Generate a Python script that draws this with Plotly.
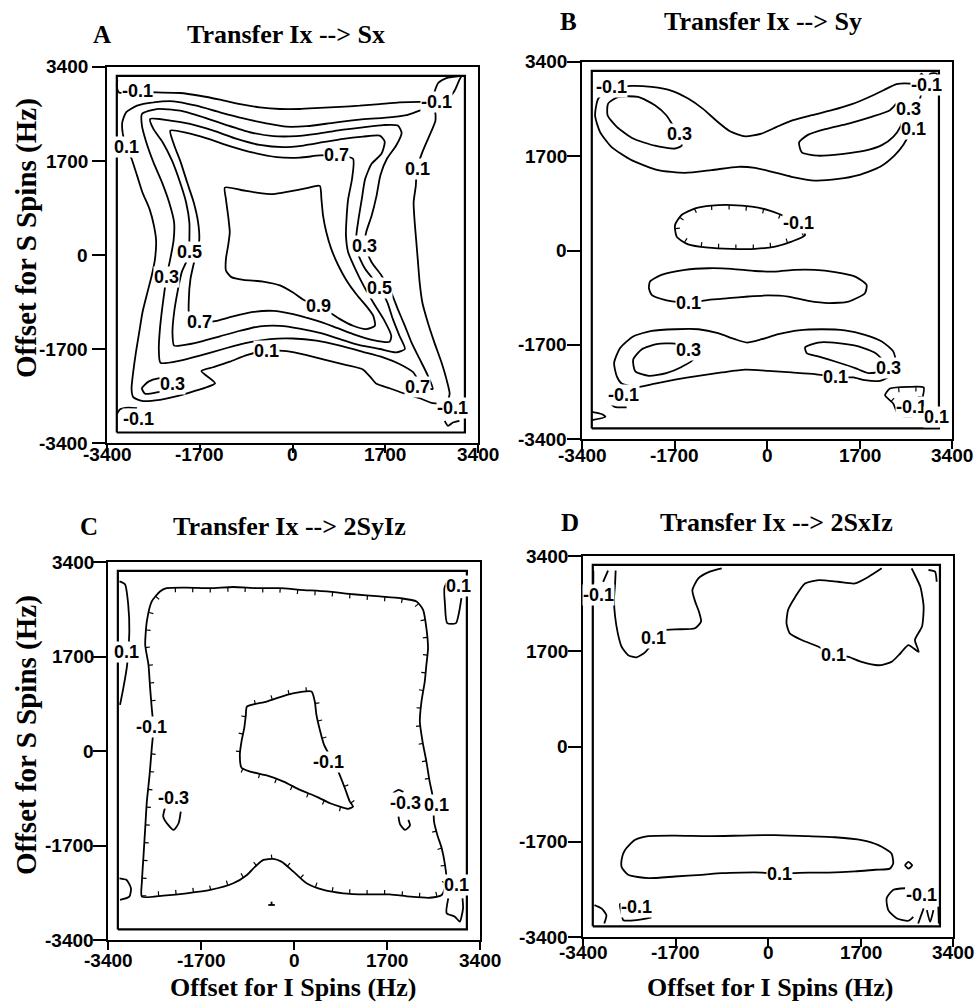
import math
import plotly.graph_objects as go

# ---------------------------------------------------------------- axes / text
AX_RANGE = [-3400, 3400]
TICK_VALS = [-3400, -1700, 0, 1700, 3400]
TICK_TEXT = ["-3400", "-1700", "0", "1700", "3400"]
PANEL_LETTERS = ["A", "B", "C", "D"]
PANEL_TITLES = ["Transfer Ix --> Sx", "Transfer Ix --> Sy",
                "Transfer Ix --> 2SyIz", "Transfer Ix --> 2SxIz"]
X_TITLE = "Offset for I Spins (Hz)"
Y_TITLE = "Offset for S Spins (Hz)"

# extent of the simulated offset grid (inner frame), Hz
GRID_X = [-3220, 3160]
GRID_Y = [-3210, 3240]

# ---------------------------------------------------------------- panel A  (Ix -> Sx)
A_M01_TOP = [(-3210, 3170), (-3220, 3050), (-3180, 2940), (-2850, 2950), (-2490, 2940), (-2060, 2930),
             (-1700, 2880), (-1330, 2810), (-960, 2730), (-600, 2670), (-230, 2640), (130, 2640),
             (500, 2660), (870, 2680), (1230, 2700), (1600, 2730), (1960, 2760), (2330, 2770),
             (2640, 2760), (2850, 2830), (2970, 2970), (3060, 3170), (3100, 3240)]
A_M01_TR = [(2600, 2940), (2670, 3110), (2820, 3200), (3090, 3240)]
A_01 = [(-2850, 2700), (-2550, 2760), (-2180, 2780), (-1760, 2700), (-1330, 2580), (-900, 2470),
        (-480, 2380), (-110, 2320), (260, 2330), (740, 2390), (1230, 2450), (1660, 2480), (2090, 2530),
        (2420, 2640), (2600, 2640), (2620, 2430), (2510, 2160), (2380, 1860), (2280, 1560), (2260, 1250),
        (2220, 950), (2240, 590), (2270, 230), (2300, -130), (2330, -490), (2380, -860), (2480, -1220),
        (2600, -1580), (2730, -1940), (2820, -2240), (2880, -2510), (2820, -2670), (2570, -2680),
        (2330, -2590), (2030, -2500), (1780, -2410), (1540, -2330), (1430, -2210), (1290, -2070),
        (990, -1990), (620, -1900), (260, -1810), (-110, -1740), (-480, -1730), (-840, -1810),
        (-1150, -1930), (-1450, -2030), (-1670, -2100), (-1420, -2320), (-1760, -2450), (-2060, -2540),
        (-2430, -2620), (-2760, -2640), (-2920, -2570), (-2950, -2420), (-2920, -2120), (-2870, -1760),
        (-2810, -1400), (-2750, -1040), (-2660, -680), (-2580, -370), (-2520, -70), (-2500, 260),
        (-2540, 530), (-2620, 830), (-2750, 1130), (-2850, 1440), (-2950, 1740), (-3040, 1950),
        (-3110, 2190), (-3120, 2400), (-3050, 2580)]
A_03 = [(-2760, 2550), (-2490, 2640), (-2060, 2610), (-1630, 2490), (-1210, 2350), (-780, 2220),
        (-350, 2150), (70, 2150), (440, 2190), (870, 2260), (1290, 2310), (1660, 2350), (1930, 2340),
        (2000, 2210), (1900, 1980), (1730, 1740), (1610, 1440), (1540, 1070), (1450, 710), (1350, 410),
        (1320, 170), (1450, -130), (1630, -370), (1810, -680), (1930, -980), (2060, -1280), (2180, -1580),
        (2330, -1880), (2480, -2180), (2570, -2420), (2390, -2390), (2210, -2120), (1960, -1970),
        (1660, -1850), (1290, -1750), (870, -1640), (440, -1550), (10, -1510), (-410, -1520),
        (-840, -1590), (-1270, -1700), (-1700, -1820), (-2060, -1910), (-2420, -1950), (-2450, -1700),
        (-2430, -1340), (-2390, -980), (-2350, -680), (-2310, -400), (-2240, -70), (-2180, 260),
        (-2170, 590), (-2260, 950), (-2390, 1310), (-2550, 1680), (-2680, 2040), (-2760, 2340)]
A_05 = [(-2610, 2460), (-2240, 2430), (-1880, 2370), (-1450, 2250), (-1020, 2100), (-600, 1990),
        (-170, 1950), (200, 1980), (560, 2040), (930, 2100), (1290, 2140), (1600, 2160), (1690, 2050),
        (1630, 1830), (1450, 1650), (1330, 1370), (1270, 1010), (1210, 650), (1170, 350), (1190, 50),
        (1330, -250), (1600, -590), (1740, -860), (1840, -1160), (1960, -1460), (2060, -1700),
        (1900, -1760), (1600, -1700), (1230, -1630), (870, -1520), (500, -1410), (130, -1330),
        (-230, -1280), (-600, -1290), (-960, -1370), (-1330, -1470), (-1700, -1570), (-2000, -1630),
        (-2170, -1640), (-2200, -1400), (-2170, -1040), (-2110, -680), (-2030, -310), (-1900, -10),
        (-1890, 290), (-1890, 590), (-1950, 950), (-2060, 1310), (-2210, 1710), (-2380, 2040),
        (-2550, 2280)]
A_07 = [(-2240, 2250), (-1940, 2210), (-1570, 2110), (-1150, 1970), (-720, 1850), (-290, 1770),
        (130, 1760), (500, 1800), (810, 1800), (1110, 1740), (1090, 1370), (1020, 1010), (990, 650),
        (980, 350), (1020, 50), (1150, -250), (1300, -550), (1480, -860), (1670, -1160), (1810, -1460),
        (1780, -1570), (1480, -1540), (1110, -1430), (740, -1290), (380, -1170), (10, -1070),
        (-350, -1010), (-720, -1030), (-1090, -1110), (-1390, -1190), (-1700, -1220), (-1890, -1100),
        (-1900, -800), (-1870, -430), (-1790, -70), (-1710, 260), (-1730, 590), (-1810, 950),
        (-1930, 1310), (-2050, 1680), (-2170, 1990)]
A_09 = [(-1240, 1220), (-960, 1180), (-660, 1130), (-350, 1100), (-50, 1150), (260, 1210), (500, 1250),
        (530, 1010), (560, 710), (620, 410), (710, 110), (840, -190), (990, -460), (1170, -710),
        (1350, -920), (1480, -1100), (1510, -1280), (1350, -1340), (1110, -1280), (870, -1160),
        (680, -1040), (440, -920), (200, -810), (10, -680), (-230, -550), (-540, -480), (-900, -450),
        (-1120, -400), (-1220, -280), (-1220, -70), (-1180, 170), (-1150, 410), (-1180, 710),
        (-1220, 1010)]
A_03_BL = [(-2210, -2240), (-2460, -2230), (-2640, -2290), (-2760, -2410), (-2700, -2510),
           (-2460, -2480), (-2210, -2420)]
A_M01_BL = [(-3220, -2880), (-3160, -2790), (-3010, -2760), (-2850, -2770)]
A_M01_BR = [(2790, -3000), (2850, -3090), (2940, -3030), (3060, -3000)]
A_LABELS = [("-0.1", -2850, 2960), ("-0.1", 2640, 2760), ("0.1", -3040, 1950), ("0.1", 2300, 1560),
            ("0.1", -480, -1730), ("0.3", -2310, -400), ("0.3", 1320, 170), ("0.3", -2200, -2330),
            ("0.5", -1880, 50), ("0.5", 1600, -590), ("0.7", 810, 1800), ("0.7", -1700, -1220),
            ("0.7", 2300, -2390), ("0.9", 470, -920), ("-0.1", -2820, -2970), ("-0.1", 2940, -2760)]

# ---------------------------------------------------------------- panel B  (Ix -> Sy)
B_TOP = [(-3100, 2740), (-2860, 2920), (-2490, 2970), (-2120, 2950), (-1750, 2880), (-1450, 2740),
         (-1170, 2550), (-930, 2340), (-680, 2150), (-400, 2060), (-100, 2110), (180, 2230), (480, 2350),
         (820, 2440), (1190, 2530), (1560, 2640), (1860, 2760), (2140, 2890), (2380, 3000), (2630, 3010),
         (2780, 2980), (2840, 2860), (2750, 2560), (2660, 2320), (2600, 2080), (2510, 1910), (2350, 1720),
         (2080, 1510), (1680, 1360), (1310, 1290), (880, 1260), (450, 1330), (90, 1420), (-220, 1490),
         (-530, 1510), (-1020, 1450), (-1510, 1400), (-2000, 1450), (-2490, 1630), (-2860, 1870),
         (-3070, 2140), (-3160, 2440)]
B_TOP_L03 = [(-1750, 2290), (-1850, 2440), (-2060, 2620), (-2370, 2770), (-2730, 2770), (-2920, 2650),
             (-2930, 2440), (-2760, 2230), (-2460, 2020), (-2060, 1890), (-1690, 1840), (-1570, 1890),
             (-1600, 2110)]
B_TOP_R03 = [(2450, 2710), (2260, 2530), (1920, 2410), (1500, 2290), (1070, 2190), (760, 2090),
             (590, 1950), (640, 1770), (940, 1710), (1370, 1740), (1800, 1800), (2110, 1900),
             (2320, 2050), (2450, 2230), (2510, 2440)]
B_TR_MARK = [(2750, 3040), (2840, 3190), (2940, 3070), (3000, 3190), (3120, 3190), (3130, 3040)]
B_MID_NEG = [(-1690, 460), (-1570, 640), (-1320, 760), (-1020, 810), (-650, 820), (-280, 790), (20, 730),
             (270, 640), (510, 520), (700, 280), (450, 160), (150, 70), (-220, 30), (-650, 30),
             (-1080, 50), (-1450, 110), (-1660, 250)]
B_MID_01 = [(-2150, -560), (-1940, -440), (-1510, -350), (-1080, -320), (-650, -330), (-220, -370),
            (150, -380), (510, -350), (880, -350), (1250, -390), (1620, -470), (1830, -620), (1800, -770),
            (1500, -920), (1130, -950), (760, -910), (390, -830), (20, -810), (-340, -830), (-710, -860),
            (-1080, -890), (-1450, -950), (-1880, -890), (-2120, -800), (-2170, -680)]
B_BOT_01 = [(-2760, -2270), (-2810, -2030), (-2700, -1760), (-2460, -1550), (-2120, -1450),
            (-1690, -1420), (-1260, -1420), (-900, -1490), (-590, -1600), (-370, -1660), (-100, -1600),
            (210, -1510), (580, -1440), (1010, -1420), (1430, -1440), (1800, -1520), (2110, -1640),
            (2320, -1820), (2370, -2030), (2260, -2260), (2080, -2350), (1800, -2340), (1590, -2290),
            (1250, -2280), (880, -2230), (450, -2200), (20, -2170), (-400, -2150), (-830, -2200),
            (-1260, -2260), (-1690, -2330), (-2060, -2400), (-2370, -2460), (-2670, -2400)]
B_BOT_L03 = [(-1690, -1680), (-2030, -1690), (-2300, -1780), (-2460, -1970), (-2420, -2180),
             (-2170, -2260), (-1850, -2210), (-1570, -2100), (-1350, -1960), (-1450, -1800)]
B_BOT_R03 = [(700, -1750), (940, -1660), (1310, -1670), (1680, -1730), (1990, -1850), (2140, -2000),
             (2080, -2180), (1860, -2210), (1620, -2120), (1310, -2020), (940, -1910), (730, -1850)]
B_BL = [(-2920, -2720), (-2800, -2820), (-2580, -2830)]
B_BL_TRI = [(-3220, -2910), (-3040, -2950), (-2970, -3000), (-3220, -3060)]
B_BR = [(2260, -2490), (2600, -2460), (2880, -2470), (2840, -2730), (2750, -2970), (2420, -2970),
        (2320, -2760), (2170, -2610)]
B_LABELS = [("-0.1", -2860, 2950), ("-0.1", 2940, 2985), ("0.3", 2600, 2560), ("0.1", 2690, 2200),
            ("0.3", -1600, 2110), ("-0.1", 580, 490), ("0.1", -1450, -950), ("0.3", -1450, -1800),
            ("0.3", 2230, -2120), ("0.1", 1250, -2280), ("-0.1", -2640, -2610), ("-0.1", 2660, -2820),
            ("0.1", 3120, -3000)]

# ---------------------------------------------------------------- panel C  (Ix -> 2SyIz)
C_BIG = [(-2330, 2930), (-1960, 2940), (-1530, 2930), (-1110, 2950), (-680, 2930), (-260, 2930),
         (110, 2900), (600, 2870), (1080, 2820), (1570, 2780), (1940, 2750), (2240, 2690), (2360, 2540),
         (2420, 2210), (2450, 1850), (2420, 1550), (2390, 1250), (2330, 890), (2300, 530), (2350, 170),
         (2420, -190), (2480, -550), (2530, -790), (2550, -1030), (2560, -1270), (2620, -1510),
         (2700, -1750), (2760, -2050), (2790, -2350), (2700, -2590), (2480, -2640), (2120, -2620),
         (1750, -2580), (1330, -2580), (900, -2560), (540, -2500), (230, -2380), (-10, -2170),
         (-230, -1990), (-380, -1940), (-560, -1960), (-710, -2080), (-860, -2230), (-1110, -2380),
         (-1530, -2500), (-1960, -2560), (-2390, -2600), (-2780, -2620), (-2780, -2350), (-2750, -1870),
         (-2720, -1390), (-2690, -910), (-2640, -430), (-2600, 50), (-2570, 410), (-2600, 770),
         (-2630, 1130), (-2660, 1550), (-2720, 1910), (-2690, 2330), (-2600, 2690), (-2450, 2870)]
C_ISLAND = [(-860, 800), (-500, 890), (-130, 1010), (110, 1060), (320, 1070), (380, 890), (410, 650),
            (480, 350), (550, 110), (810, -370), (930, -670), (1020, -910), (1080, -1000), (990, -1040),
            (840, -1000), (660, -940), (410, -820), (110, -700), (-190, -550), (-500, -440), (-800, -370),
            (-960, -300), (-990, -70), (-960, 170), (-910, 410), (-880, 650)]
C_LEFT = [(-3190, 3050), (-3090, 3000), (-3030, 2630), (-3010, 2150), (-3050, 1550), (-3120, 1130),
          (-3180, 830)]
C_TR = [(2820, 3080), (2750, 2930), (2760, 2630), (2800, 2300), (2960, 2300), (3020, 2510), (3060, 2750)]
C_BL = [(-3190, -2290), (-3060, -2320), (-2980, -2470), (-3010, -2620), (-3180, -2680)]
C_BR = [(2820, -2650), (2790, -2920), (2940, -2980), (3030, -3070), (3090, -2830), (3080, -2650)]
C_M03_L = [(-2360, -1030), (-2390, -1180), (-2300, -1330), (-2200, -1420), (-2110, -1300),
           (-2070, -1090)]
C_M03_R = [(1910, -1180), (1940, -1320), (2030, -1420), (2120, -1340), (2090, -1240)]
C_M03_R_TOP = [(1810, -760), (1910, -700), (2000, -740)]
C_MARK_H = [(-470, -2770), (-350, -2770)]
C_MARK_V = [(-410, -2770), (-410, -2710)]
C_LABELS = [("0.1", -3060, 1790), ("0.1", 3000, 2960), ("-0.1", -2600, 440), ("-0.1", 630, -190),
            ("-0.3", -2200, -850), ("-0.3", 2030, -940), ("0.1", 2610, -970), ("0.1", 2970, -2410)]

# ---------------------------------------------------------------- panel D  (Ix -> 2SxIz)
D_TL = [(-2800, 3140), (-2810, 2910), (-2830, 2620), (-2810, 2320), (-2760, 2020), (-2690, 1780),
        (-2570, 1630), (-2420, 1590), (-2260, 1680), (-2110, 1870), (-2050, 2060), (-1710, 2090),
        (-1340, 2110), (-1230, 2230), (-1270, 2410), (-1340, 2590), (-1390, 2790), (-1280, 3000),
        (-1070, 3120), (-850, 3180)]
D_TR = [(2090, 3180), (1850, 3030), (1600, 2910), (1290, 2940), (930, 2970), (680, 2910), (500, 2670),
        (370, 2440), (340, 2200), (400, 2020), (620, 1900), (930, 1780), (1200, 1630), (1480, 1600),
        (1720, 1510), (2030, 1450), (2270, 1510), (2430, 1660), (2580, 1810), (2770, 1690), (2700, 1900),
        (2830, 2140), (2860, 2500), (2800, 2850), (2670, 3120), (2640, 3180)]
D_TR_SMALL = [(2950, 3150), (3070, 3120), (3100, 2940)]
D_TL_MARK1 = [(-3210, 3140), (-3210, 2910)]
D_TL_MARK2 = [(-3030, 2940), (-2940, 3140)]
D_BOT = [(-2630, -1850), (-2450, -1670), (-2200, -1600), (-1710, -1590), (-1100, -1600), (-480, -1590),
         (130, -1580), (740, -1600), (1230, -1620), (1720, -1670), (2030, -1760), (2270, -1910),
         (2300, -2090), (2240, -2180), (1970, -2200), (1600, -2230), (1110, -2250), (740, -2250),
         (440, -2260), (220, -2280), (-120, -2250), (-480, -2250), (-850, -2260), (-1220, -2290),
         (-1710, -2320), (-2200, -2350), (-2570, -2290), (-2690, -2150), (-2680, -1970)]
D_DIAMOND = [(2520, -2120), (2580, -2060), (2650, -2120), (2580, -2180)]
D_BL = [(-2570, -2790), (-2720, -2810), (-2690, -2980), (-2660, -3100), (-2420, -3100), (-2140, -3050)]
D_BL_CORNER = [(-3190, -2830), (-3060, -2890), (-2970, -3010), (-3010, -3160)]
D_BR = [(2520, -2530), (2300, -2560), (2180, -2710), (2210, -2920), (2370, -3070), (2580, -3110),
        (2670, -3040)]
D_BR_MARK1 = [(2760, -3160), (2860, -2890)]
D_BR_MARK2 = [(2920, -2920), (2980, -3130), (3040, -2920)]
D_BR_MARK3 = [(3130, -2860), (3140, -3160)]
D_LABELS = [("-0.1", -3120, 2700), ("0.1", -2110, 1930), ("0.1", 1200, 1630), ("0.1", 220, -2280),
            ("-0.1", -2420, -2860), ("-0.1", 2830, -2650)]

# (path, closed) per panel; hachured contours carry tick side (+1 inward, -1 outward)
PANEL_LINES = [
    [(A_M01_TOP, False), (A_M01_TR, False), (A_01, True), (A_03, True), (A_05, True), (A_07, True),
     (A_09, True), (A_03_BL, False), (A_M01_BL, False), (A_M01_BR, False)],
    [(B_TOP, True), (B_TOP_L03, True), (B_TOP_R03, True), (B_TR_MARK, False), (B_MID_NEG, True),
     (B_MID_01, True), (B_BOT_01, True), (B_BOT_L03, True), (B_BOT_R03, True), (B_BL, False),
     (B_BL_TRI, False), (B_BR, True)],
    [(C_BIG, True), (C_ISLAND, True), (C_LEFT, False), (C_TR, False), (C_BL, False), (C_BR, False),
     (C_M03_L, False), (C_M03_R, False), (C_M03_R_TOP, False), (C_MARK_H, False), (C_MARK_V, False)],
    [(D_TL, False), (D_TR, False), (D_TR_SMALL, False), (D_TL_MARK1, False), (D_TL_MARK2, False),
     (D_BOT, True), (D_DIAMOND, True), (D_BL, False), (D_BL_CORNER, False), (D_BR, False),
     (D_BR_MARK1, False), (D_BR_MARK2, False), (D_BR_MARK3, False)],
]
PANEL_HACHURES = [[], [(B_MID_NEG, 1), (B_BR, 1)], [(C_BIG, 1), (C_ISLAND, -1)], []]
PANEL_LABELS = [A_LABELS, B_LABELS, C_LABELS, D_LABELS]

# ---------------------------------------------------------------- page geometry (px)
W, H = 977, 1002
PLOT_BOXES = [(107, 478, 67, 443), (582, 952, 62, 439), (108, 480, 562, 940), (583, 953, 556, 937)]
YLAB_RIGHT = [89, 568, 95, 569]      # right edge of y tick labels
XLAB_MID = [454, 455, 960, 952]      # vertical centre of x tick labels
LETTER_POS = [(102, 34), (568, 21), (89, 526), (570, 522)]
TITLE_POS = [(286, 34), (763, 21), (289, 526), (776, 522)]
YTITLE_POS = {0: (26, 238), 2: (26, 735)}
XTITLE_POS = {2: (293, 987), 3: (770, 987)}

SANS = "Liberation Sans, Arial, sans-serif"
SERIF = "Liberation Serif, Times New Roman, serif"
TICK_FONT = dict(family=SANS, size=19, color="black", weight="bold")
LEVEL_FONT = dict(family=SANS, size=18, color="black", weight="bold")


def xy(path, closed):
    pts = list(path) + ([path[0]] if closed else [])
    return [p[0] for p in pts], [p[1] for p in pts]


def hachure(path, side, step=320.0, length=80.0):
    pts = list(path) + [path[0]]
    area = 0.5 * sum(pts[i][0] * pts[i + 1][1] - pts[i + 1][0] * pts[i][1] for i in range(len(pts) - 1))
    orient = 1.0 if area > 0 else -1.0
    xs, ys = [], []
    carry = step / 2
    for (x0, y0), (x1, y1) in zip(pts[:-1], pts[1:]):
        dx, dy = x1 - x0, y1 - y0
        seg = math.hypot(dx, dy)
        if seg == 0:
            continue
        ux, uy = dx / seg, dy / seg
        nx, ny = -uy * orient * side, ux * orient * side
        d = carry
        while d < seg:
            px, py = x0 + ux * d, y0 + uy * d
            xs += [px, px + nx * length, None]
            ys += [py, py + ny * length, None]
            d += step
        carry = d - seg
    return xs, ys


fig = go.Figure()
annotations = []

for i in range(4):
    n = "" if i == 0 else str(i + 1)
    xa, ya = "x" + n, "y" + n
    x0, x1, y0, y1 = PLOT_BOXES[i]

    # inner frame of the simulation grid
    fig.add_trace(go.Scatter(
        x=[GRID_X[0], GRID_X[1], GRID_X[1], GRID_X[0], GRID_X[0]],
        y=[GRID_Y[0], GRID_Y[0], GRID_Y[1], GRID_Y[1], GRID_Y[0]],
        mode="lines", line=dict(color="black", width=2.2), xaxis=xa, yaxis=ya,
        hoverinfo="skip", showlegend=False))

    # contour lines
    xs, ys = [], []
    for path, closed in PANEL_LINES[i]:
        px, py = xy(path, closed)
        xs += px + [None]
        ys += py + [None]
    fig.add_trace(go.Scatter(x=xs, y=ys, mode="lines",
                             line=dict(color="black", width=1.8, shape="spline", smoothing=0.6),
                             xaxis=xa, yaxis=ya, hoverinfo="skip", showlegend=False))

    # downhill tick marks on negative contours
    hx, hy = [], []
    for path, side in PANEL_HACHURES[i]:
        a, b = hachure(path, side)
        hx += a
        hy += b
    if hx:
        fig.add_trace(go.Scatter(x=hx, y=hy, mode="lines", line=dict(color="black", width=1.2),
                                 xaxis=xa, yaxis=ya, hoverinfo="skip", showlegend=False))

    # contour level labels
    for text, lx, ly in PANEL_LABELS[i]:
        annotations.append(dict(x=lx, y=ly, xref=xa, yref=ya, text=text, showarrow=False,
                                font=LEVEL_FONT, bgcolor="white", borderpad=0))

    # tick labels
    for v, t in zip(TICK_VALS, TICK_TEXT):
        annotations.append(dict(x=v, xref=xa, y=1 - XLAB_MID[i] / H, yref="paper", text=t,
                                showarrow=False, xanchor="center", yanchor="middle", font=TICK_FONT))
        annotations.append(dict(x=YLAB_RIGHT[i] / W, xref="paper", y=v, yref=ya, text=t,
                                showarrow=False, xanchor="right", yanchor="middle", font=TICK_FONT,
                                borderpad=0))

    common = dict(range=AX_RANGE, tickvals=TICK_VALS, showticklabels=False, showgrid=False,
                  zeroline=False, showline=True, mirror=True, linecolor="black", linewidth=1.8,
                  ticks="outside", tickcolor="black", tickwidth=1.5, automargin=False,
                  fixedrange=True)
    fig.update_layout(**{
        ("xaxis" + n): dict(domain=[x0 / W, x1 / W], anchor=ya, ticklen=8, **common),
        ("yaxis" + n): dict(domain=[1 - y1 / H, 1 - y0 / H], anchor=xa, ticklen=13, **common),
    })

    lx, ly = LETTER_POS[i]
    annotations.append(dict(x=lx / W, y=1 - ly / H, xref="paper", yref="paper", text=PANEL_LETTERS[i],
                            showarrow=False, xanchor="center", yanchor="middle",
                            font=dict(family=SERIF, size=25, color="black", weight="bold")))
    tx, ty = TITLE_POS[i]
    annotations.append(dict(x=tx / W, y=1 - ty / H, xref="paper", yref="paper", text=PANEL_TITLES[i],
                            showarrow=False, xanchor="center", yanchor="middle",
                            font=dict(family=SERIF, size=26, color="black", weight="bold")))
    if i in YTITLE_POS:
        px_, py_ = YTITLE_POS[i]
        annotations.append(dict(x=px_ / W, y=1 - py_ / H, xref="paper", yref="paper", text=Y_TITLE,
                                textangle=-90, showarrow=False, xanchor="center", yanchor="middle",
                                font=dict(family=SERIF, size=29, color="black", weight="bold")))
    if i in XTITLE_POS:
        px_, py_ = XTITLE_POS[i]
        annotations.append(dict(x=px_ / W, y=1 - py_ / H, xref="paper", yref="paper", text=X_TITLE,
                                showarrow=False, xanchor="center", yanchor="middle",
                                font=dict(family=SERIF, size=26, color="black", weight="bold")))

fig.update_layout(template="none", width=W, height=H, margin=dict(l=0, r=0, t=0, b=0, pad=0),
                  paper_bgcolor="white", plot_bgcolor="white", annotations=annotations,
                  showlegend=False)

fig.write_html("out.html")
